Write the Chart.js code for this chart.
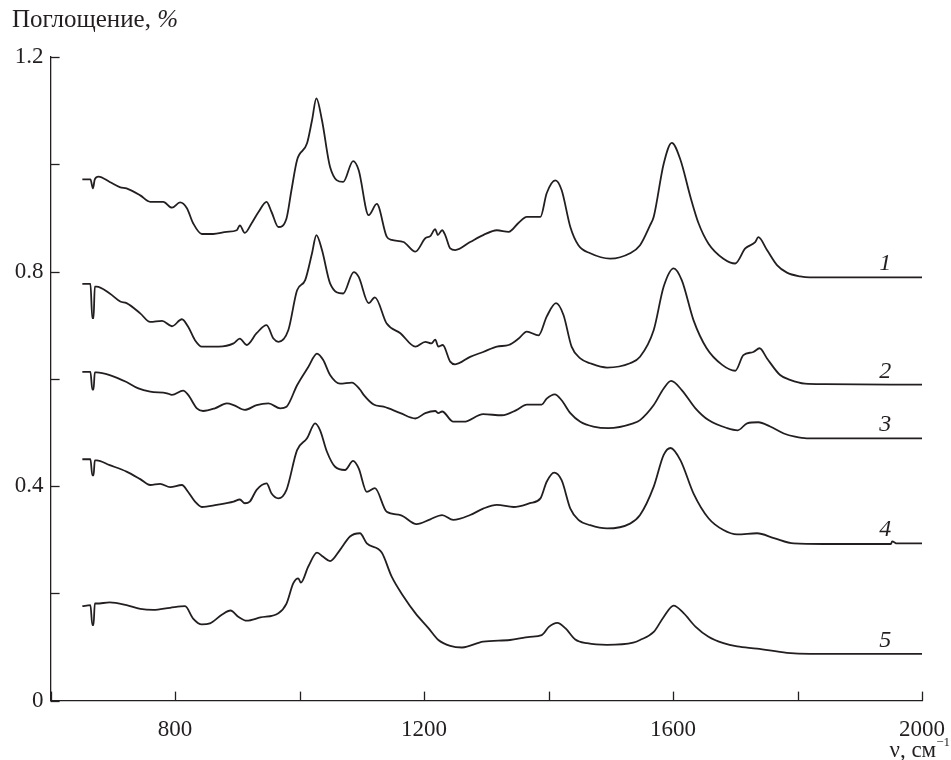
<!DOCTYPE html>
<html>
<head>
<meta charset="utf-8">
<script src="https://cdn.jsdelivr.net/npm/chart.js@4.4.1/dist/chart.umd.min.js"></script>
<style>
    body { margin: 0; background: #fff; }
    #wrap { width: 951px; height: 760px; position: relative; }
</style>
</head>
<body>
<div id="wrap"><canvas id="spectraChart"></canvas></div>
<script>
// ── DATA (wavenumber, absorbance) ─────────────────────────────
const spectrum1 = [[651,0.972],[664,0.972],[668,0.955],[671,0.972],[677,0.977],[695,0.967],[712,0.957],[722,0.955],[744,0.942],[760,0.930],[781,0.930],[795,0.919],[808,0.929],[819,0.918],[829,0.890],[843,0.870],[861,0.870],[883,0.874],[899,0.877],[904,0.886],[912,0.872],[923,0.890],[934,0.911],[947,0.930],[955,0.911],[966,0.883],[979,0.899],[987,0.952],[996,1.008],[1012,1.039],[1020,1.082],[1027,1.123],[1036,1.082],[1049,0.995],[1070,0.967],[1086,1.006],[1095,0.989],[1111,0.905],[1124,0.926],[1140,0.865],[1148,0.859],[1167,0.855],[1186,0.837],[1202,0.862],[1210,0.866],[1218,0.879],[1222,0.868],[1229,0.877],[1234,0.868],[1242,0.843],[1250,0.840],[1274,0.855],[1295,0.868],[1317,0.877],[1336,0.874],[1352,0.891],[1365,0.902],[1387,0.902],[1397,0.946],[1411,0.970],[1421,0.952],[1435,0.883],[1448,0.849],[1467,0.834],[1499,0.824],[1531,0.834],[1547,0.849],[1563,0.886],[1569,0.902],[1585,1.001],[1598,1.040],[1612,1.008],[1628,0.939],[1641,0.890],[1657,0.852],[1681,0.824],[1700,0.815],[1716,0.843],[1732,0.855],[1737,0.864],[1751,0.840],[1767,0.812],[1783,0.798],[1804,0.791],[1820,0.789],[2000,0.789]];
const spectrum2 = [[651,0.777],[664,0.777],[667,0.713],[669,0.713],[671,0.772],[674,0.772],[695,0.759],[712,0.744],[722,0.741],[744,0.722],[760,0.706],[779,0.708],[795,0.698],[811,0.711],[821,0.697],[832,0.672],[843,0.660],[870,0.660],[894,0.666],[904,0.675],[915,0.663],[931,0.685],[947,0.700],[958,0.675],[966,0.669],[982,0.691],[996,0.765],[1009,0.784],[1020,0.834],[1027,0.868],[1036,0.840],[1049,0.778],[1070,0.759],[1087,0.799],[1095,0.790],[1111,0.741],[1121,0.752],[1140,0.703],[1162,0.685],[1186,0.660],[1202,0.669],[1212,0.666],[1218,0.673],[1223,0.660],[1230,0.663],[1242,0.632],[1250,0.627],[1274,0.641],[1295,0.650],[1317,0.660],[1336,0.663],[1352,0.675],[1365,0.688],[1384,0.681],[1397,0.716],[1412,0.741],[1424,0.719],[1437,0.660],[1451,0.638],[1467,0.629],[1494,0.621],[1531,0.629],[1547,0.641],[1569,0.691],[1585,0.772],[1601,0.806],[1614,0.784],[1633,0.709],[1654,0.657],[1679,0.626],[1700,0.615],[1713,0.644],[1729,0.650],[1739,0.657],[1751,0.638],[1772,0.607],[1788,0.598],[1812,0.591],[1844,0.590],[2000,0.589]];
const spectrum3 = [[651,0.613],[664,0.613],[667,0.580],[669,0.580],[671,0.612],[674,0.612],[695,0.607],[722,0.594],[741,0.582],[760,0.576],[787,0.573],[795,0.570],[813,0.578],[821,0.570],[835,0.545],[845,0.540],[864,0.545],[883,0.554],[894,0.551],[912,0.542],[931,0.551],[950,0.554],[969,0.545],[979,0.548],[996,0.588],[1014,0.622],[1028,0.647],[1038,0.635],[1049,0.607],[1065,0.591],[1084,0.593],[1097,0.580],[1103,0.570],[1119,0.552],[1135,0.548],[1162,0.536],[1186,0.526],[1202,0.536],[1218,0.540],[1223,0.536],[1229,0.539],[1247,0.520],[1264,0.520],[1295,0.534],[1325,0.532],[1349,0.542],[1365,0.552],[1389,0.552],[1397,0.563],[1410,0.571],[1421,0.560],[1435,0.536],[1451,0.520],[1472,0.511],[1496,0.508],[1536,0.517],[1547,0.523],[1569,0.551],[1585,0.582],[1597,0.596],[1614,0.579],[1636,0.545],[1657,0.523],[1687,0.508],[1704,0.504],[1719,0.517],[1737,0.519],[1756,0.511],[1778,0.498],[1796,0.492],[1815,0.489],[2000,0.489]];
const spectrum4 = [[651,0.450],[664,0.450],[667,0.420],[669,0.420],[671,0.448],[674,0.448],[695,0.439],[722,0.427],[744,0.413],[760,0.402],[776,0.404],[792,0.398],[811,0.402],[821,0.389],[832,0.371],[843,0.361],[867,0.365],[894,0.371],[904,0.375],[912,0.368],[920,0.371],[931,0.393],[947,0.405],[955,0.386],[966,0.377],[979,0.393],[996,0.467],[1012,0.489],[1025,0.517],[1033,0.504],[1044,0.464],[1057,0.436],[1073,0.430],[1086,0.447],[1095,0.433],[1108,0.389],[1121,0.396],[1140,0.352],[1162,0.346],[1188,0.329],[1210,0.338],[1229,0.346],[1247,0.337],[1274,0.346],[1295,0.358],[1317,0.365],[1344,0.361],[1370,0.368],[1387,0.377],[1397,0.408],[1409,0.425],[1421,0.411],[1435,0.358],[1448,0.337],[1467,0.327],[1494,0.321],[1531,0.330],[1547,0.346],[1569,0.399],[1585,0.458],[1596,0.471],[1612,0.448],[1633,0.386],[1657,0.340],[1681,0.318],[1703,0.310],[1735,0.312],[1762,0.303],[1794,0.293],[1842,0.292],[1950,0.292],[1952,0.297],[1960,0.293],[2000,0.293]];
const spectrum5 = [[651,0.176],[664,0.178],[667,0.141],[669,0.141],[671,0.181],[674,0.181],[695,0.183],[722,0.178],[744,0.171],[765,0.169],[792,0.173],[816,0.176],[829,0.153],[843,0.142],[856,0.144],[875,0.160],[889,0.168],[902,0.156],[915,0.149],[937,0.155],[966,0.163],[979,0.181],[990,0.219],[998,0.228],[1002,0.220],[1014,0.250],[1028,0.276],[1038,0.268],[1049,0.260],[1065,0.281],[1081,0.306],[1097,0.312],[1108,0.293],[1132,0.276],[1148,0.231],[1167,0.194],[1186,0.163],[1207,0.135],[1223,0.113],[1242,0.102],[1261,0.099],[1295,0.110],[1338,0.113],[1370,0.119],[1389,0.122],[1401,0.138],[1414,0.145],[1427,0.135],[1443,0.114],[1462,0.107],[1494,0.104],[1536,0.108],[1547,0.113],[1569,0.128],[1585,0.156],[1601,0.177],[1617,0.163],[1636,0.138],[1657,0.119],[1681,0.107],[1703,0.101],[1735,0.097],[1783,0.089],[1820,0.087],[2000,0.087]];

const curveNames = ['1', '2', '3', '4', '5'];
const xLabelled = [800, 1200, 1600, 2000];
const yLabelled = [0, 0.4, 0.8, 1.2];
const yTitle = 'Поглощение, ';
const xTitle = 'ν, см';

const INK = '#231f20';
const SERIF = '"Liberation Serif", "DejaVu Serif", serif';

// ── inward tick marks, curve numbers and axis titles ─────────
const decorations = {
    id: 'decorations',
    afterDraw(chart) {
        const {ctx, scales: {x, y}} = chart;
        ctx.save();
        ctx.strokeStyle = INK;
        ctx.lineWidth = 1.3;
        x.ticks.forEach(t => {
            const px = Math.round(x.getPixelForValue(t.value)) + 0.5;
            ctx.beginPath(); ctx.moveTo(px, y.bottom); ctx.lineTo(px, y.bottom - 9); ctx.stroke();
        });
        y.ticks.forEach(t => {
            const py = Math.round(y.getPixelForValue(t.value)) + 0.5;
            ctx.beginPath(); ctx.moveTo(x.left, py); ctx.lineTo(x.left + 9, py); ctx.stroke();
        });

        // curve numbers above the flat tails
        ctx.fillStyle = INK;
        ctx.font = 'italic 24px ' + SERIF;
        ctx.textAlign = 'center';
        ctx.textBaseline = 'alphabetic';
        chart.data.datasets.forEach((ds, i) => {
            const last = ds.data[ds.data.length - 1];
            ctx.fillText(curveNames[i], x.getPixelForValue(1941), y.getPixelForValue(last.y) - 7);
        });

        // y title
        ctx.textAlign = 'left';
        ctx.font = '25px ' + SERIF;
        ctx.fillText(yTitle, 12, 27);
        const w = ctx.measureText(yTitle).width;
        ctx.font = 'italic 25px ' + SERIF;
        ctx.fillText('%', 12 + w, 27);

        // x title with superscript
        ctx.font = '13px ' + SERIF;
        const supW = ctx.measureText('−1').width;
        ctx.textAlign = 'right';
        ctx.fillText('−1', 950, 746);
        ctx.font = '23px ' + SERIF;
        ctx.fillText(xTitle, 950 - supW, 757);
        ctx.restore();
    }
};

const canvas = document.getElementById('spectraChart');
new Chart(canvas, {
    type: 'line',
    data: {
        datasets: [spectrum1, spectrum2, spectrum3, spectrum4, spectrum5].map((s, i) => ({
            label: curveNames[i],
            data: s.map(p => ({x: p[0], y: p[1]})),
            borderColor: INK,
            borderWidth: 1.8,
            pointRadius: 0,
            cubicInterpolationMode: 'monotone',
            fill: false
        }))
    },
    options: {
        responsive: true,
        maintainAspectRatio: false,
        animation: false,
        layout: {padding: {top: 57, right: 29, left: 0, bottom: 0}},
        plugins: {legend: {display: false}, tooltip: {enabled: false}},
        scales: {
            x: {
                type: 'linear',
                min: 600,
                max: 2000,
                grid: {display: false, drawTicks: false},
                border: {display: true, color: INK, width: 1.3},
                ticks: {
                    stepSize: 200,
                    autoSkip: false,
                    maxRotation: 0,
                    padding: 16,
                    color: INK,
                    font: {family: SERIF, size: 23},
                    callback: v => xLabelled.includes(v) ? String(v) : ''
                },
                afterFit: s => { s.height = 59.4; s.paddingLeft = 0; s.paddingRight = 0; }
            },
            y: {
                min: 0,
                max: 1.2,
                grid: {display: false, drawTicks: false},
                border: {display: true, color: INK, width: 1.3},
                ticks: {
                    stepSize: 0.2,
                    autoSkip: false,
                    padding: 7,
                    color: INK,
                    font: {family: SERIF, size: 23},
                    callback: v => {
                        const r = Math.round(v * 10) / 10;
                        return yLabelled.includes(r) ? String(r) : '';
                    }
                },
                afterFit: s => { s.width = 50.6; s.paddingTop = 0; s.paddingBottom = 0; }
            }
        }
    },
    plugins: [decorations]
});
</script>
</body>
</html>
